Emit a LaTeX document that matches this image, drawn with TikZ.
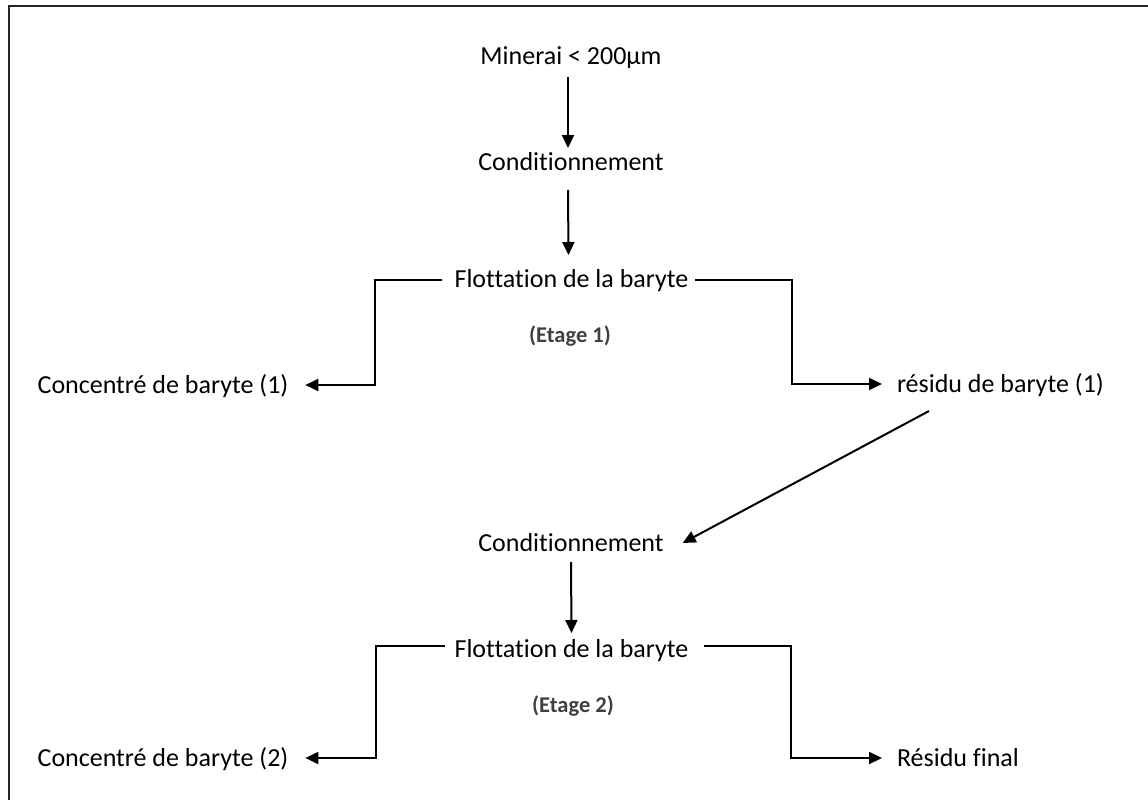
\documentclass[tikz,border=0pt]{standalone}
\usepackage{fontspec}
\setmainfont{Carlito}[Ligatures={NoCommon}]
\usetikzlibrary{arrows.meta,calc}
\tikzset{
  lbl/.style={inner sep=0pt, outer sep=0pt, font=\fontsize{26}{30}\selectfont, text=black},
  etage/.style={inner sep=0pt, outer sep=0pt, font=\fontsize{22.5}{26}\selectfont\bfseries, text=black!75},
  arr/.style={line width=2pt, -{Triangle[length=13pt,width=12pt]}},
  frame/.style={line width=2pt, black!85}
}
\begin{document}
\begin{tikzpicture}[x=1pt,y=-1pt]
\useasboundingbox (0,0) rectangle (1148,800);
\draw[frame] (9,801) -- (9,6) -- (1149,6);

\node[lbl, anchor=base] (m)  at (571,65)  {Minerai < 200µm};
\node[lbl, anchor=base] (c1) at (571,170) {Conditionnement};
\node[lbl, anchor=base] (f1) at (571.5,287) {Flottation de la baryte};
\node[etage, anchor=base] (e1) at (570,342) {(Etage 1)};
\node[lbl, anchor=base] (k1) at (163,393) {Concentré de baryte (1)};
\node[lbl, anchor=base west] (r1) at (897,392) {résidu de baryte (1)};
\node[lbl, anchor=base] (c2) at (571,551) {Conditionnement};
\node[lbl, anchor=base] (f2) at (571.5,657) {Flottation de la baryte};
\node[etage, anchor=base] (e2) at (573,712) {(Etage 2)};
\node[lbl, anchor=base] (k2) at (163,766) {Concentré de baryte (2)};
\node[lbl, anchor=base west] (rf) at (897,766) {Résidu final};

\draw[arr] ($(m.base)+(-3,12)$) -- ($(c1.base)+(-3,-22)$);
\draw[arr] ($(c1.base)+(-3,20)$) -- ($(f1.base)+(-3,-32)$);
\draw[arr] ($(f1.base west)+(-13,-7)$) -- ++(-67,0) |- ($(k1.base east)+(17,-8)$);
\draw[arr] ($(f1.base east)+(7,-7)$) -- ++(97,0) |- ($(r1.base west)+(-15,-8)$);
\draw[arr] ($(r1.base west)+(32,19)$) -- ($(c2.base east)+(19,-8)$);
\draw[arr] ($(c2.base)+(0,11)$) -- ($(f2.base)+(0,-24)$);
\draw[arr] ($(f2.base west)+(-10,-11)$) -- ++(-69,0) |- ($(k2.base east)+(17,-8)$);
\draw[arr] ($(f2.base east)+(16,-11)$) -- ++(87,0) |- ($(rf.base west)+(-15,-8)$);
\end{tikzpicture}
\end{document}
